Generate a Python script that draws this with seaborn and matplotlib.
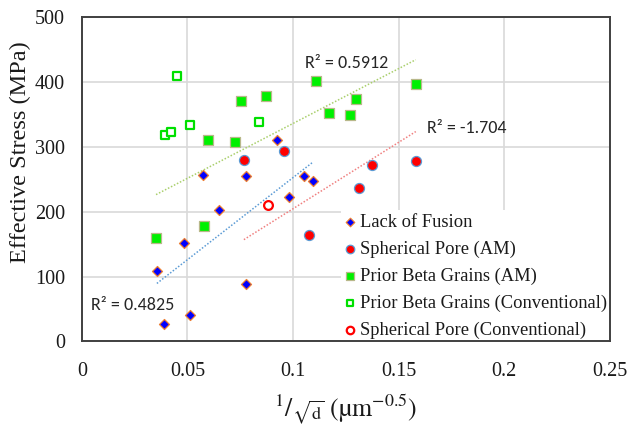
import numpy as np
import pandas as pd
import matplotlib
matplotlib.use("Agg")
import matplotlib.pyplot as plt
import seaborn as sns

# Lack of Fusion defects
lof_x = [0.0355, 0.0389, 0.0482, 0.0511, 0.0572, 0.0651, 0.0776, 0.0776, 0.0926, 0.0980, 0.1054, 0.1095]
lof_y = [108, 27, 152, 41, 256, 203, 255, 88, 310, 222, 255, 247]

# Spherical pores, additively manufactured
sp_am_x = [0.0767, 0.0959, 0.1074, 0.1314, 0.1374, 0.1581]
sp_am_y = [280, 294, 164, 236, 272, 278]

# Prior beta grains, additively manufactured
pbg_am_x = [0.0351, 0.0576, 0.0599, 0.0725, 0.0752, 0.0871, 0.1109, 0.1170, 0.1270, 0.1300, 0.1581]
pbg_am_y = [159, 178, 310, 308, 371, 379, 402, 353, 349, 374, 397]

# Prior beta grains, conventional
pbg_conv_x = [0.0393, 0.0424, 0.0448, 0.0511, 0.0838]
pbg_conv_y = [318, 323, 409, 334, 339]

# Spherical pore, conventional
sp_conv_x = [0.0879]
sp_conv_y = [211]

x_ticks = [0, 0.05, 0.1, 0.15, 0.2, 0.25]
x_tick_labels = ["0", "0.05", "0.1", "0.15", "0.2", "0.25"]
y_ticks = [0, 100, 200, 300, 400, 500]

SERIF = ["Liberation Serif", "DejaVu Serif"]

sns.set_style("white")
plt.rcParams["font.family"] = SERIF
plt.rcParams["mathtext.fontset"] = "stix"

fig = plt.figure(figsize=(6.3, 4.29), dpi=100)
ax = fig.add_axes([0.130, 0.204, 0.838, 0.756])

def frame(x, y):
    return pd.DataFrame({"x": x, "y": y})

lof = frame(lof_x, lof_y)
sp_am = frame(sp_am_x, sp_am_y)
pbg_am = frame(pbg_am_x, pbg_am_y)
pbg_conv = frame(pbg_conv_x, pbg_conv_y)
sp_conv = frame(sp_conv_x, sp_conv_y)

# trend lines (dotted)
dot = (0, (1, 1.2))
sns.regplot(data=pbg_am, x="x", y="y", scatter=False, ci=None, ax=ax,
            line_kws=dict(color="#a9cf6b", lw=1.1, ls=dot, zorder=2))
sns.regplot(data=lof, x="x", y="y", scatter=False, ci=None, ax=ax,
            line_kws=dict(color="#5b9bd5", lw=1.1, ls=dot, zorder=2))
# spherical pores (AM): least squares line forced through the origin
xs = np.array(sp_am_x)
ys = np.array(sp_am_y)
k = np.sum(xs * ys) / np.sum(xs * xs)
xr = np.array([xs.min(), xs.max()])
ax.plot(xr, k * xr, color="#f08080", lw=1.1, ls=dot, zorder=2)

sns.scatterplot(data=lof, x="x", y="y", ax=ax, marker="D", s=26,
                color="#0000ff", edgecolor="#ed7d31", linewidth=0.9,
                label="Lack of Fusion", zorder=4)
sns.scatterplot(data=sp_am, x="x", y="y", ax=ax, marker="o", s=52,
                color="#ff0000", edgecolor="#5b9bd5", linewidth=0.9,
                label="Spherical Pore (AM)", zorder=4)
sns.scatterplot(data=pbg_am, x="x", y="y", ax=ax, marker="s", s=46,
                color="#00f000", edgecolor="#b8b88a", linewidth=0.9,
                label="Prior Beta Grains (AM)", zorder=4)
sns.scatterplot(data=pbg_conv, x="x", y="y", ax=ax, marker="s", s=34,
                color="white", edgecolor="#00e000", linewidth=1.6,
                label="Prior Beta Grains (Conventional)", zorder=4)
sns.scatterplot(data=sp_conv, x="x", y="y", ax=ax, marker="o", s=40,
                color="white", edgecolor="#ff0000", linewidth=1.6,
                label="Spherical Pore (Conventional)", zorder=4)

# R² annotations
r2_font = dict(family=["Carlito", "DejaVu Sans"], fontsize=13, color="#262626",
               ha="left", va="center", zorder=6)
ax.text(0.1055, 430, "R² = 0.5912", **r2_font)
ax.text(0.1636, 329, "R² = -1.704", **r2_font)
ax.text(0.0045, 56, "R² = 0.4825", **r2_font)

ax.set_xlim(0, 0.25)
ax.set_ylim(0, 500)
ax.set_xticks(x_ticks)
ax.set_xticklabels(x_tick_labels)
ax.set_yticks(y_ticks)
ax.tick_params(axis="both", length=0, labelsize=14.5, labelcolor="#1a1a1a")
ax.tick_params(axis="x", pad=15)
ax.tick_params(axis="y", pad=12)
for lbl in ax.get_xticklabels() + ax.get_yticklabels():
    lbl.set_fontfamily(SERIF)

ax.grid(True, color="#d9d9d9", lw=1.2)
ax.set_axisbelow(True)
for sp in ax.spines.values():
    sp.set_visible(True)
    sp.set_color("#404040")
    sp.set_linewidth(1.4)
    sp.set_zorder(3)

ax.set_xlabel(r"$^{1}/_{\sqrt{\mathrm{d}}}\ (\mathrm{µm}^{-0.5})$", fontsize=18.5,
              color="#1a1a1a", labelpad=8)
ax.set_ylabel("Effective Stress (MPa)", fontsize=17.5, color="#1a1a1a",
              family=SERIF)
ax.yaxis.set_label_coords(-0.096, 0.585)

leg = ax.legend(loc="upper left", bbox_to_anchor=(0.49, 0.404), frameon=True,
                facecolor="white", edgecolor="none", framealpha=1, fancybox=False,
                prop=dict(family="Liberation Serif", size=13.3),
                handlelength=0.6, handletextpad=0.25, labelspacing=0.52,
                borderpad=0.2, borderaxespad=0, markerscale=0.85)
# legend box sits above the grid but below the frame
leg.set_zorder(2.2)
for t in leg.get_texts():
    t.set_color("#1a1a1a")

fig.savefig("out.png", dpi=100, facecolor="white")
